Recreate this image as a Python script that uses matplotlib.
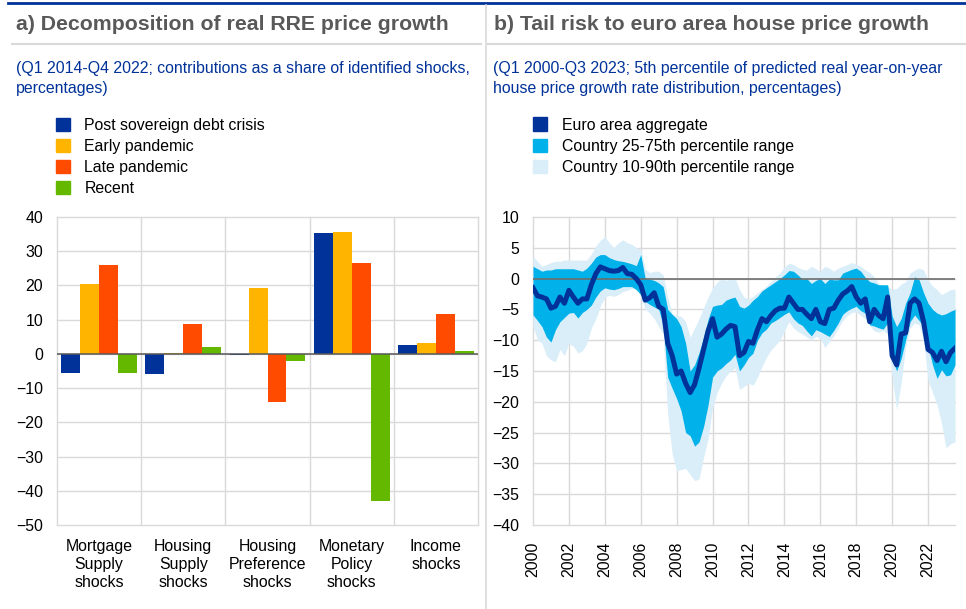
import matplotlib
matplotlib.use("Agg")
import matplotlib.pyplot as plt
from matplotlib.patches import Patch
import numpy as np

plt.rcParams['font.family'] = ['Liberation Sans', 'DejaVu Sans']

# ---- panel a) contributions as a share of identified shocks (%)
shocks = ["Mortgage\nSupply\nshocks", "Housing\nSupply\nshocks", "Housing\nPreference\nshocks",
          "Monetary\nPolicy\nshocks", "Income\nshocks"]
periods = ["Post sovereign debt crisis", "Early pandemic", "Late pandemic", "Recent"]
post_sov = [-5.5, -5.9, -0.4, 35.2, 2.6]
early_pan = [20.3, 0.4, 19.2, 35.5, 3.2]
late_pan = [25.9, 8.8, -14.1, 26.7, 11.6]
recent = [-5.7, 2.0, -2.1, -43.0, 0.8]

# ---- panel b) 5th percentile of predicted real y-o-y house price growth, Q1 2000 - Q3 2023
years = list(range(2000, 2023, 2))
ea_agg = [-1.5, -2.8, -3.0, -3.3, -4.8, -4.5, -3.0, -4.0, -1.9, -3.0,
          -4.0, -3.3, -3.3, -1.0, 0.8, 1.9, 1.6, 1.3, 1.2, 1.3,
          1.8, 0.8, 0.7, 0.0, -1.0, -3.5, -3.1, -2.3, -4.5, -5.0,
          -10.5, -12.5, -15.5, -15.0, -17.0, -18.5, -17.2, -14.5, -11.5, -8.5,
          -6.5, -9.5, -9.0, -8.2, -7.6, -7.8, -12.5, -12.0, -10.2, -10.5,
          -8.3, -6.5, -7.0, -6.0, -5.2, -4.8, -4.8, -3.0, -4.0, -5.0,
          -5.0, -5.8, -6.5, -5.0, -7.0, -7.3, -5.0, -4.8, -3.5, -2.5,
          -2.0, -1.3, -3.0, -4.0, -3.3, -7.0, -5.0, -6.0, -6.5, -3.0,
          -12.5, -14.0, -9.0, -8.8, -4.0, -3.3, -4.0, -7.0, -11.5, -12.0,
          -13.3, -11.8, -13.5, -12.0, -11.3]
p90 = [3.6, 2.8, 2.0, 2.3, 2.6, 2.8, 2.8, 3.0, 3.0, 3.0,
       3.0, 3.0, 3.0, 4.0, 5.3, 6.2, 6.8, 5.8, 5.0, 5.8,
       6.3, 5.8, 5.6, 5.0, 4.8, 1.5, 1.0, 1.2, 1.2, 0.6,
       -3.0, -5.8, -6.0, -6.1, -7.0, -9.5, -8.0, -6.5, -4.7, -3.0,
       -1.5, -0.6, 0.0, -0.3, -0.1, 0.1, -1.8, -3.0, -3.3, -2.9,
       -2.3, -1.8, -1.2, -0.5, 0.3, 0.9, 1.9, 2.5, 2.3, 1.8,
       1.5, 1.4, 2.0, 1.6, 1.2, 2.0, 1.7, 1.2, 1.7, 2.0,
       2.3, 2.6, 2.3, 2.0, 1.4, 1.0, 0.3, -0.8, -1.1, -1.3,
       -1.8, -1.6, -0.9, -0.5, 0.9, 1.4, 1.7, 1.4, -0.2, -1.2,
       -1.8, -2.6, -2.2, -1.8, -1.7]
p75 = [2.0, 1.6, 1.2, 1.4, 1.4, 1.6, 1.6, 1.6, 1.6, 1.6,
       1.4, 1.2, 1.7, 2.5, 3.5, 3.9, 3.9, 3.4, 3.1, 2.9,
       2.8, 2.6, 2.4, 2.1, 3.9, 0.0, -0.1, -0.3, -0.7, -1.3,
       -5.0, -5.8, -6.5, -7.8, -10.5, -15.0, -14.0, -12.0, -9.5, -6.6,
       -4.5, -4.3, -4.2, -3.5, -3.2, -3.0, -4.5, -4.8, -4.3, -3.5,
       -2.9, -2.0, -1.5, -1.0, -0.5, 0.0, 0.6, 1.3, 1.2, 0.6,
       -0.1, 0.0, -0.8, -0.3, 0.0, -0.8, -0.1, -0.2, -0.2, 0.9,
       1.2, 1.5, 1.7, 1.2, 0.2, -0.5, -0.7, -1.0, -1.0, -1.0,
       -6.1, -7.8, -6.5, -4.0, -2.3, 0.3, -0.2, -2.3, -4.0, -5.0,
       -5.6, -5.9, -5.7, -5.3, -5.0]
p25 = [-5.9, -6.8, -7.8, -9.5, -10.3, -8.3, -7.0, -6.3, -5.6, -5.5,
       -6.4, -5.5, -5.0, -4.3, -3.0, -2.0, -1.5, -1.7, -1.8, -1.6,
       -1.3, -1.3, -1.3, -1.8, -2.6, -3.7, -4.2, -4.6, -5.0, -7.5,
       -16.0, -17.8, -19.5, -21.5, -25.0, -25.5, -27.2, -26.5, -24.0, -20.5,
       -16.0, -15.0, -14.5, -13.8, -13.2, -12.3, -15.0, -14.0, -12.8, -12.1,
       -10.0, -8.8, -8.2, -7.2, -6.8, -6.3, -5.8, -5.4, -6.5, -7.2,
       -7.6, -8.5, -9.3, -8.3, -8.6, -9.0, -9.4, -8.4, -7.2, -5.8,
       -5.2, -4.8, -4.5, -5.2, -5.6, -7.5, -7.7, -8.0, -8.2, -7.2,
       -13.0, -15.0, -13.0, -10.0, -7.0, -5.9, -6.8, -7.8, -11.0, -14.0,
       -16.2, -14.8, -15.8, -15.6, -14.0]
p10 = [-7.8, -9.9, -10.5, -12.5, -13.2, -13.5, -11.5, -12.5, -10.5, -11.0,
       -12.1, -11.7, -10.5, -8.0, -6.5, -4.5, -3.0, -2.7, -2.9, -2.6,
       -2.1, -1.9, -1.6, -1.6, -2.9, -5.0, -5.6, -6.5, -7.8, -9.0,
       -22.0, -28.5, -31.2, -31.0, -30.8, -31.8, -32.8, -32.5, -29.0, -26.0,
       -21.0, -18.5, -17.0, -15.8, -15.0, -14.5, -18.0, -17.5, -17.0, -17.3,
       -16.0, -14.3, -12.8, -11.6, -10.8, -10.0, -8.5, -7.0, -8.0, -8.6,
       -9.0, -9.5, -10.0, -9.4, -9.7, -11.2, -10.2, -9.3, -8.0, -6.8,
       -6.0, -5.5, -5.4, -6.0, -6.5, -7.6, -8.5, -8.7, -8.4, -9.0,
       -16.0, -21.3, -17.0, -11.0, -8.0, -7.2, -7.5, -10.0, -16.5, -18.5,
       -20.5, -23.5, -27.5, -26.8, -26.5]

ecb_blue = "#003299"
colors = ["#003299", "#ffb400", "#ff4b00", "#65b800"]
mid_blue = "#00b1ea"
light_blue = "#d9eef9"
grid_col = "#d9d9d9"
title_col = "#595959"
fs = 11.4

W, H = 966, 609
fig = plt.figure(figsize=(W / 100, H / 100), dpi=100)


def fx(px):
    return px / W


def fy(py):
    return 1 - py / H


# frame: top rule, title underlines, panel divider
fig.add_artist(plt.Line2D([fx(8), 1], [fy(2.5), fy(2.5)], color=ecb_blue, lw=2))
fig.add_artist(plt.Line2D([fx(12), fx(481)], [fy(44), fy(44)], color=grid_col, lw=1.5))
fig.add_artist(plt.Line2D([fx(488), 1], [fy(44), fy(44)], color=grid_col, lw=1.5))
fig.add_artist(plt.Line2D([fx(486), fx(486)], [fy(5), 0], color=grid_col, lw=1.2))

fig.text(fx(16), fy(24), "a) Decomposition of real RRE price growth", fontsize=15.3,
         fontweight="bold", color=title_col, va="center")
fig.text(fx(494), fy(24), "b) Tail risk to euro area house price growth", fontsize=15.3,
         fontweight="bold", color=title_col, va="center")
fig.text(fx(16), fy(61.5), "(Q1 2014-Q4 2022; contributions as a share of identified shocks,\npercentages)",
         fontsize=fs, color=ecb_blue, va="top", linespacing=1.41)
fig.text(fx(493), fy(61.5), "(Q1 2000-Q3 2023; 5th percentile of predicted real year-on-year\n"
         "house price growth rate distribution, percentages)",
         fontsize=fs, color=ecb_blue, va="top", linespacing=1.41)

# ---- panel a
ax1 = fig.add_axes([fx(57), fy(525), fx(478) - fx(57), fy(217) - fy(525)])
x = np.arange(len(shocks))
w = 0.225
for k, (vals, c) in enumerate(zip([post_sov, early_pan, late_pan, recent], colors)):
    ax1.bar(x + (k - 1.5) * w, vals, width=w, color=c, zorder=2)
ax1.axhline(0, color="#595959", lw=1.1, zorder=3)
ax1.set_xlim(-0.5, len(shocks) - 0.5)
ax1.set_ylim(-50, 40)
ax1.set_yticks(range(-50, 41, 10))
ax1.set_xticks(x)
ax1.set_xticklabels(shocks, fontsize=fs, linespacing=1.25)
ax1.set_xticks(np.arange(-0.5, len(shocks), 1), minor=True)
ax1.tick_params(axis="y", length=0, pad=10, labelsize=fs)
ax1.tick_params(axis="x", which="both", length=0, pad=10)
ax1.grid(axis="y", color=grid_col, lw=1, zorder=0)
ax1.grid(axis="x", which="minor", color=grid_col, lw=1, zorder=0)
for s in ax1.spines.values():
    s.set_visible(False)
ax1.set_axisbelow(True)

# ---- panel b
ax2 = fig.add_axes([fx(533), fy(525), fx(955) - fx(533), fy(217) - fy(525)])
q = np.arange(len(ea_agg))
ax2.fill_between(q, p10, p90, color=light_blue, lw=0, zorder=1)
ax2.fill_between(q, p25, p75, color=mid_blue, lw=0, zorder=2)
ax2.axhline(0, color="#6d6d6d", lw=1.2, zorder=3)
ax2.plot(q, ea_agg, color=ecb_blue, lw=3.6, zorder=4, solid_joinstyle="round")
ax2.set_xlim(0, len(ea_agg) - 1)
ax2.set_ylim(-40, 10)
ax2.set_yticks(range(-40, 11, 5))
ax2.set_xticks(np.arange(len(years)) * 8)
ax2.set_xticklabels([str(y) for y in years], rotation=90, fontsize=fs)
ax2.tick_params(axis="y", length=0, pad=10, labelsize=fs)
ax2.tick_params(axis="x", length=0, pad=12)
ax2.grid(color=grid_col, lw=1, zorder=0)
for s in ax2.spines.values():
    s.set_visible(False)
ax2.set_axisbelow(True)

# keep the gridlines on the plot edges fully visible
for a in (ax1, ax2):
    ticks = a.xaxis.get_major_ticks() + a.xaxis.get_minor_ticks() + a.yaxis.get_major_ticks()
    for t in ticks:
        t.gridline.set_clip_on(False)

# legends
leg_kw = dict(loc="upper left", frameon=False, fontsize=fs, handlelength=0.9, handleheight=0.9,
              handletextpad=0.9, labelspacing=0.38, borderpad=0, borderaxespad=0)
fig.legend([Patch(color=c) for c in colors], periods, bbox_to_anchor=(fx(56), fy(117.5)), **leg_kw)
fig.legend([Patch(color=ecb_blue), Patch(color=mid_blue), Patch(color=light_blue)],
           ["Euro area aggregate", "Country 25-75th percentile range", "Country 10-90th percentile range"],
           bbox_to_anchor=(fx(533), fy(117.5)), **leg_kw)

fig.savefig("out.png", dpi=100)
